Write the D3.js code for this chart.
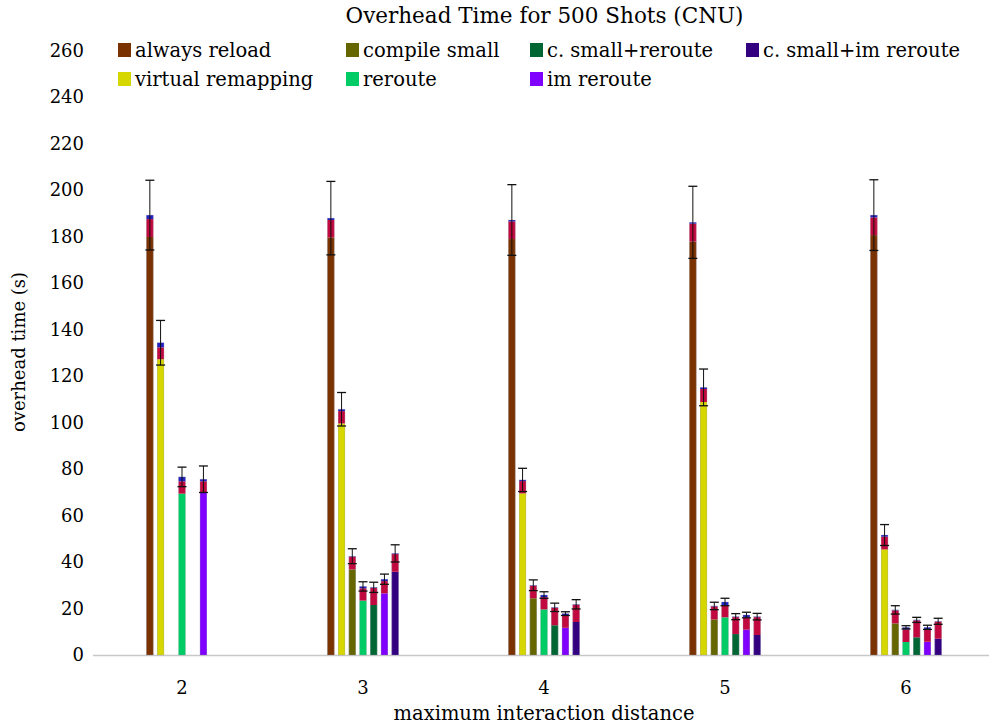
<!DOCTYPE html>
<html>
<head>
<meta charset="utf-8">
<script src="https://cdn.jsdelivr.net/npm/d3@7"></script>
<style>
  body { margin: 0; background: #fff; }
</style>
</head>
<body>
<div id="chart"></div>
<script>
// categories
var distances = [2, 3, 4, 5, 6];
var series = ["always reload", "virtual remapping", "compile small", "reroute",
              "c. small+reroute", "im reroute", "c. small+im reroute"];
var yTicks = [0, 20, 40, 60, 80, 100, 120, 140, 160, 180, 200, 220, 240, 260];

// one row per series, one value per distance (null = not measured)
var baseTime = [
  [179.8, 179.6, 178.9, 177.8, 180.6],
  [127.2,  99.6,  69.5, 108.8,  45.4],
  [ null,  36.8,  24.4,  15.3,  13.6],
  [ 69.4,  23.4,  19.6,  16.2,   5.6],
  [ null,  21.5,  12.8,   9.0,   7.6],
  [ 70.0,  26.5,  11.7,  10.9,   5.7],
  [ null,  35.8,  14.2,   8.6,   7.0]
];
// crimson part on top of each bar
var compileTime = [
  [7.7, 7.5, 7.6, 7.7, 7.6],
  [5.1, 5.3, 5.3, 5.6, 5.5],
  [null, 5.5, 5.4, 5.6, 5.6],
  [5.3, 5.3, 5.3, 5.2, 5.4],
  [null, 7.3, 7.5, 7.3, 7.3],
  [4.7, 5.3, 5.2, 5.3, 5.2],
  [null, 7.6, 7.4, 7.7, 7.3]
];
// blue cap of each bar
var loadTime = [
  [1.7, 0.8, 0.6, 0.6, 1.0],
  [2.0, 0.8, 0.5, 0.7, 0.7],
  [null, 0.2, 0.2, 0.2, 0.2],
  [1.9, 0.8, 0.9, 1.4, 0.9],
  [null, 0.3, 0.2, 0.2, 0.2],
  [0.9, 0.8, 0.9, 1.0, 1.0],
  [null, 0.3, 0.2, 0.2, 0.2]
];
// +/- error on the total
var errTime = [
  [15.0, 15.8, 15.2, 15.5, 15.2],
  [ 9.6,  7.2,  5.0,  7.9,  4.5],
  [null,  3.2,  2.3,  1.6,  1.8],
  [ 4.2,  2.0,  1.4,  1.6,  0.7],
  [null,  2.2,  1.8,  1.3,  1.1],
  [ 5.7,  2.2,  0.8,  1.2,  0.9],
  [null,  3.7,  2.0,  1.4,  1.3]
];

var seriesColors = ["#7a3300", "#d6d600", "#666600", "#00cc66", "#006633", "#8000ff", "#330080"];
var compileColor = "#c2093f";
var loadColor = "#2020c0";
var font = "'DejaVu Serif', 'Liberation Serif', serif";

var width = 989, height = 725;
var svg = d3.select("#chart").append("svg")
    .attr("width", width)
    .attr("height", height)
    .attr("font-family", font);

var y = d3.scaleLinear().domain([0, 260]).range([655, 50.5]);
var x = d3.scaleLinear().domain([2, 6]).range([182, 906]);
var inner = d3.scaleBand().domain(series).range([-37.5, 37.5])
    .paddingInner(0.35).paddingOuter(0.175);

// build flat list of bars
var bars = [];
series.forEach(function(s, i) {
  distances.forEach(function(d, j) {
    if (baseTime[i][j] == null) return;
    var b = baseTime[i][j], c = compileTime[i][j], l = loadTime[i][j];
    bars.push({series: s, idx: i, dist: d, base: b, compile: c, load: l,
               total: b + c + l, err: errTime[i][j]});
  });
});

// x axis line
svg.append("line")
    .attr("x1", 93).attr("x2", 989)
    .attr("y1", y(0) + 0.5).attr("y2", y(0) + 0.5)
    .attr("stroke", "#c8c8c8").attr("stroke-width", 1.5);

var g = svg.selectAll(".bar")
    .data(bars)
  .enter().append("g")
    .attr("class", "bar")
    .attr("transform", function(d) { return "translate(" + (x(d.dist) + inner(d.series)) + ",0)"; });

var bw = inner.bandwidth();

g.append("rect")
    .attr("width", bw)
    .attr("y", function(d) { return y(d.base); })
    .attr("height", function(d) { return y(0) - y(d.base); })
    .attr("fill", function(d) { return seriesColors[d.idx]; });

g.append("rect")
    .attr("width", bw)
    .attr("y", function(d) { return y(d.base + d.compile); })
    .attr("height", function(d) { return y(d.base) - y(d.base + d.compile); })
    .attr("fill", compileColor);

g.append("rect")
    .attr("width", bw)
    .attr("y", function(d) { return y(d.total); })
    .attr("height", function(d) { return y(d.base + d.compile) - y(d.total); })
    .attr("fill", loadColor);

// light outline like the original
g.append("rect")
    .attr("x", 0.25)
    .attr("width", bw - 0.5)
    .attr("y", function(d) { return y(d.total); })
    .attr("height", function(d) { return y(0) - y(d.total); })
    .attr("fill", "none")
    .attr("stroke", "rgba(150,150,170,0.45)")
    .attr("stroke-width", 0.6);

// error bars
var cx = bw / 2;
g.append("line")
    .attr("x1", cx).attr("x2", cx)
    .attr("y1", function(d) { return y(d.total + d.err); })
    .attr("y2", function(d) { return y(d.total - d.err); })
    .attr("stroke", "#111").attr("stroke-width", 1);
g.append("line")
    .attr("x1", cx - 4.5).attr("x2", cx + 4.5)
    .attr("y1", function(d) { return y(d.total + d.err); })
    .attr("y2", function(d) { return y(d.total + d.err); })
    .attr("stroke", "#111").attr("stroke-width", 1.3);
g.append("line")
    .attr("x1", cx - 4.5).attr("x2", cx + 4.5)
    .attr("y1", function(d) { return y(d.total - d.err); })
    .attr("y2", function(d) { return y(d.total - d.err); })
    .attr("stroke", "#111").attr("stroke-width", 1.3);

// y tick labels (no axis line in the original)
svg.append("g").selectAll("text")
    .data(yTicks)
  .enter().append("text")
    .attr("x", 84)
    .attr("y", function(d) { return y(d); })
    .attr("dy", "0.35em")
    .attr("text-anchor", "end")
    .attr("font-size", 18)
    .text(function(d) { return d; });

// x tick labels
svg.append("g").selectAll("text")
    .data(distances)
  .enter().append("text")
    .attr("x", function(d) { return x(d); })
    .attr("y", 688)
    .attr("dy", "0.35em")
    .attr("text-anchor", "middle")
    .attr("font-size", 18)
    .text(function(d) { return d; });

svg.append("text")
    .attr("x", 544).attr("y", 713)
    .attr("dy", "0.35em")
    .attr("text-anchor", "middle")
    .attr("font-size", 19.5)
    .text("maximum interaction distance");

svg.append("text")
    .attr("transform", "translate(19,352) rotate(-90)")
    .attr("dy", "0.35em")
    .attr("text-anchor", "middle")
    .attr("font-size", 18)
    .text("overhead time (s)");

svg.append("text")
    .attr("x", 544.5).attr("y", 15)
    .attr("dy", "0.35em")
    .attr("text-anchor", "middle")
    .attr("font-size", 21.5)
    .text("Overhead Time for 500 Shots (CNU)");

// legend, filled column by column in two rows
var legendX = [118, 346, 530, 746];
var legendY = [50, 79];
var legend = svg.append("g").selectAll("g")
    .data(series)
  .enter().append("g")
    .attr("transform", function(d, i) {
      return "translate(" + legendX[Math.floor(i / 2)] + "," + legendY[i % 2] + ")";
    });
legend.append("rect")
    .attr("y", -7)
    .attr("width", 13).attr("height", 14)
    .attr("fill", function(d, i) { return seriesColors[i]; });
legend.append("text")
    .attr("x", 17)
    .attr("dy", "0.35em")
    .attr("font-size", 19.5)
    .text(function(d) { return d; });
</script>
</body>
</html>
